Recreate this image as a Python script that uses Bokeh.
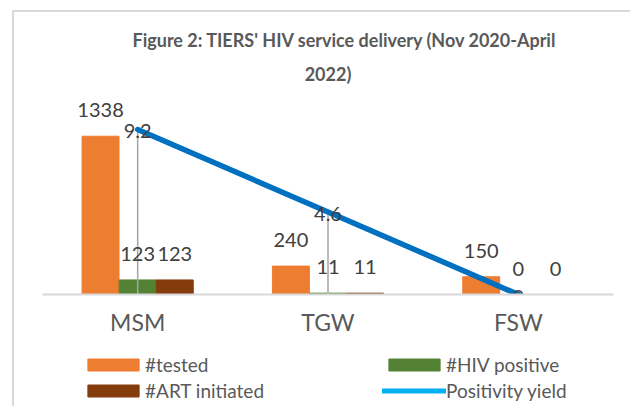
from bokeh.plotting import figure
from bokeh.models import ColumnDataSource, Range1d, Legend, LegendItem, Title
from bokeh.layouts import column
from bokeh.transform import dodge
from bokeh.core.properties import value
from bokeh.embed import file_html
from bokeh.resources import INLINE

# ---- data ----
categories = ["MSM", "TGW", "FSW"]
tested = [1338, 240, 150]
hiv_positive = [123, 11, 0]
art_initiated = [123, 11, 0]
positivity_yield = [9.2, 4.6, 0]

title_line1 = "Figure 2: TIERS' HIV service delivery (Nov 2020-April"
title_line2 = "2022)"

def lbl(vals):
    return [("%g" % v) for v in vals]

src = ColumnDataSource(dict(
    cat=categories,
    tested=tested, pos=hiv_positive, art=art_initiated, yld=positivity_yield,
    zero=[0] * len(categories),
    tested_lbl=lbl(tested), pos_lbl=lbl(hiv_positive), art_lbl=lbl(art_initiated),
    yld_lbl=lbl(positivity_yield),
))

FONT = "Lato"
LABEL_COLOR = "#404040"
TEXT_COLOR = "#595959"
C_TESTED, C_POS, C_ART, C_LINE, C_LINE_LEG = "#ED7D31", "#548235", "#843C0C", "#0070C0", "#00B0F0"

p = figure(x_range=categories, y_range=Range1d(0, 1733),
           width=630, height=343, output_backend="svg", toolbar_location=None,
           min_border_left=42, min_border_right=17, min_border_top=89, min_border_bottom=49,
           y_axis_location=None)
p.border_fill_color = None
p.background_fill_color = None
p.extra_y_ranges = {"yield": Range1d(0, 11.43)}

p.title.text = title_line1
p.title.align = "left"
p.title.offset = 90
p.title.text_font = FONT
p.title.text_font_size = "18px"
p.title.text_font_style = "bold"
p.title.text_color = TEXT_COLOR
t2 = Title(text=title_line2, align="center", text_font=FONT, text_font_size="18px",
           text_font_style="bold", text_color=TEXT_COLOR)
p.add_layout(t2, "above")

W = 0.194
OFF = 0.195
p.vbar(x=dodge("cat", -OFF, range=p.x_range), top="tested", width=W, source=src,
       fill_color=C_TESTED, line_color=C_TESTED)
p.vbar(x=dodge("cat", 0, range=p.x_range), top="pos", width=W, source=src,
       fill_color=C_POS, line_color=C_POS)
p.vbar(x=dodge("cat", OFF, range=p.x_range), top="art", width=W, source=src,
       fill_color=C_ART, line_color=C_ART)

# drop lines from line points to the axis
p.segment(x0="cat", y0="zero", x1="cat", y1="yld", y_range_name="yield", source=src,
          line_color="#A6A6A6", line_width=1.5)

p.line(x="cat", y="yld", y_range_name="yield", source=src,
       line_color=C_LINE, line_width=5.5, line_cap="round")

common = dict(text_align="center", text_baseline="middle", text_font=value(FONT),
              text_font_size="20px", text_color=LABEL_COLOR, source=src)
p.text(x=dodge("cat", -OFF, range=p.x_range), y="tested", text="tested_lbl", y_offset=-26, **common)
p.text(x=dodge("cat", 0, range=p.x_range), y="pos", text="pos_lbl", y_offset=-26, **common)
p.text(x=dodge("cat", OFF, range=p.x_range), y="art", text="art_lbl", y_offset=-26, **common)
p.text(x="cat", y="yld", text="yld_lbl", y_range_name="yield", y_offset=2, **common)

# axis / grid
p.xgrid.visible = False
p.ygrid.visible = False
p.outline_line_color = None
p.xaxis.axis_line_color = "#D9D9D9"
p.xaxis.axis_line_width = 2
p.xaxis.major_tick_line_color = None
p.xaxis.minor_tick_line_color = None
p.xaxis.major_label_text_font = FONT
p.xaxis.major_label_text_font_size = "23px"
p.xaxis.major_label_text_color = TEXT_COLOR
p.xaxis.major_label_standoff = 7

# ---- legend strip below the chart ----
pl = figure(width=630, height=63, output_backend="svg", toolbar_location=None,
            x_range=Range1d(0, 1), y_range=Range1d(0, 1),
            min_border_left=0, min_border_right=0, min_border_top=0, min_border_bottom=0,
            x_axis_location=None, y_axis_location=None)
pl.border_fill_color = None
pl.background_fill_color = None
pl.outline_line_color = None
pl.xgrid.visible = False
pl.ygrid.visible = False
# legend swatches (kept outside the visible range of the strip)
lg_tested = pl.vbar(x=[-10], top=[0], width=0.1, fill_color=C_TESTED, line_color=C_TESTED)
lg_pos = pl.vbar(x=[-10], top=[0], width=0.1, fill_color=C_POS, line_color=C_POS)
lg_art = pl.vbar(x=[-10], top=[0], width=0.1, fill_color=C_ART, line_color=C_ART)
lg_line = pl.line(x=[-10, -9], y=[0, 0], line_color=C_LINE_LEG, line_width=5, line_cap="round")

legend = Legend(items=[
    LegendItem(label="#tested", renderers=[lg_tested]),
    LegendItem(label="#ART initiated", renderers=[lg_art]),
    LegendItem(label="#HIV positive", renderers=[lg_pos]),
    LegendItem(label="Positivity yield", renderers=[lg_line]),
], orientation="vertical", nrows=2, glyph_width=64, glyph_height=15,
    label_standoff=0, label_width=234, label_height=21, spacing=3,
    padding=0, margin=0, border_line_color=None, background_fill_alpha=0,
    label_text_font=FONT, label_text_font_size="19px", label_text_color=TEXT_COLOR,
    location=(39, 4))
pl.add_layout(legend, "center")

layout = column(p, pl, spacing=0)
layout.styles = {"box-shadow": "inset 12px 10px 0 0 #FFFFFF, inset 14px 12px 0 0 #D9D9D9"}

open("out.html", "w").write(file_html(layout, INLINE))
